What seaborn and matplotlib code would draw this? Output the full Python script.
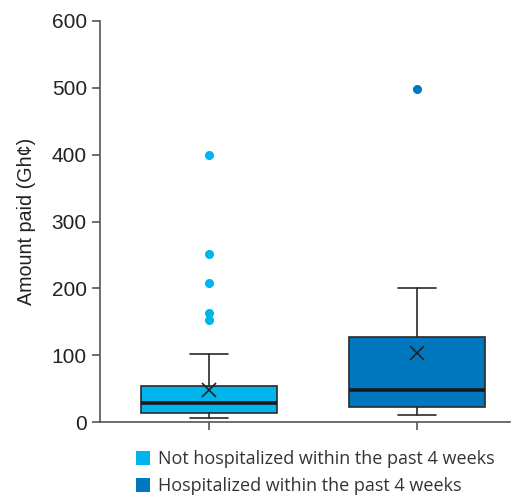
import matplotlib
matplotlib.use("Agg")
import matplotlib.pyplot as plt
from matplotlib.patches import Patch
import seaborn as sns

groups = ["Not hospitalized within the past 4 weeks", "Hospitalized within the past 4 weeks"]
colors = ["#00B4EC", "#0077BF"]
whislo = [6, 10]
q1 = [13, 22]
med = [29, 48]
q3 = [54, 127]
whishi = [102, 201]
means = [48, 103]
outliers = [[152, 163, 208, 252, 400], [498]]
yticks = [0, 100, 200, 300, 400, 500, 600]

sns.set_theme(style="ticks")
plt.rcParams['font.family'] = ['Liberation Sans', 'DejaVu Sans']

fig = plt.figure(figsize=(5.12, 4.97), dpi=100)
ax = fig.add_axes([100/512, 1-422/497, 410/512, 401/497])

stats = []
for i, g in enumerate(groups):
    stats.append(dict(label=g, whislo=whislo[i], q1=q1[i], med=med[i], q3=q3[i],
                      whishi=whishi[i], mean=means[i], fliers=outliers[i]))

bp = ax.bxp(stats, positions=[0, 1], widths=0.65, capwidths=0.18, patch_artist=True,
            showmeans=True, showfliers=True,
            boxprops=dict(edgecolor="#2a2a2a", linewidth=1.2),
            medianprops=dict(color="#1a1a1a", linewidth=2.6),
            whiskerprops=dict(color="#2a2a2a", linewidth=1.2),
            capprops=dict(color="#2a2a2a", linewidth=1.2),
            meanprops=dict(marker="x", markeredgecolor="#222222", markersize=10, markeredgewidth=1.2))
for patch, c in zip(bp["boxes"], colors):
    patch.set_facecolor(c)
for fl, c in zip(bp["fliers"], colors):
    fl.set(marker="o", markerfacecolor=c, markeredgecolor=c, markersize=5.5)

ax.set_ylim(0, 600)
ax.set_xlim(-0.524, 1.447)
ax.set_yticks(yticks)
ax.set_yticklabels([str(t) for t in yticks])
ax.set_xticks([0, 1])
ax.set_xticklabels(["", ""])
ax.set_ylabel("Amount paid (Gh\u00a2)", fontsize=14.2, color="#222222", labelpad=11)
ax.tick_params(axis="y", labelsize=15, colors="#555555", labelcolor="#222222", length=6, width=1.2)
ax.tick_params(axis="x", colors="#555555", length=6, width=1.2)
for s in ["left", "bottom"]:
    ax.spines[s].set_color("#555555")
    ax.spines[s].set_linewidth(1.2)
sns.despine(ax=ax)

handles = [Patch(facecolor=c, edgecolor="none") for c in colors]
fig.legend(handles, groups, loc="upper left", bbox_to_anchor=(120/512, 1-434/497),
           frameon=False, prop={"family": "Open Sans", "size": 13},
           handlelength=0.75, handleheight=0.75, handletextpad=0.45, labelspacing=0.5,
           labelcolor="#333333")

fig.savefig("out.png", dpi=100)
